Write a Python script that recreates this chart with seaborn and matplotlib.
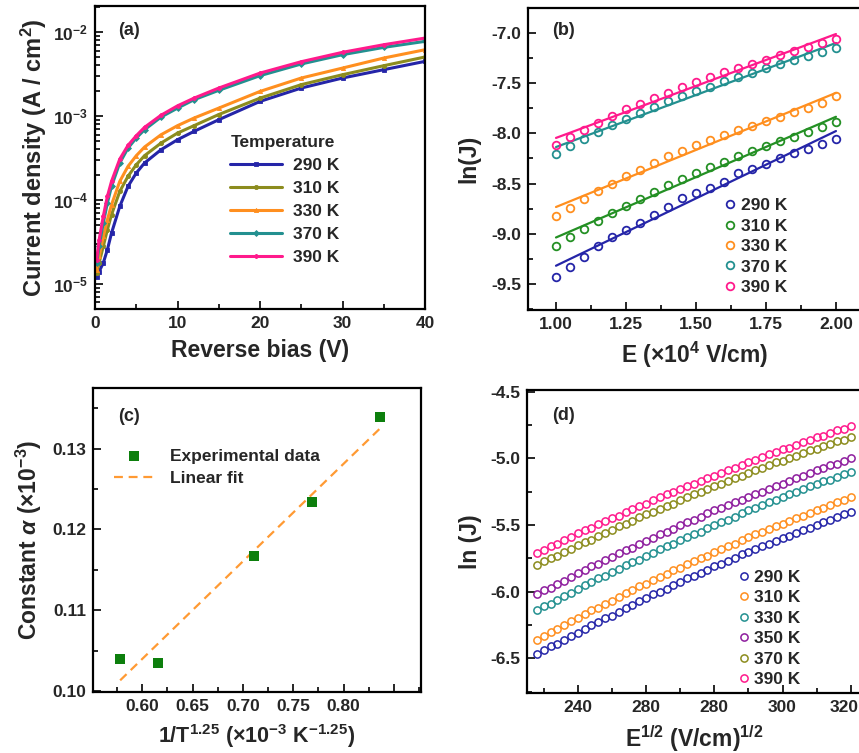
import numpy as np
import pandas as pd
import matplotlib
matplotlib.use("Agg")
import matplotlib.pyplot as plt
import matplotlib.transforms as mtrans
import seaborn as sns
from matplotlib.ticker import MultipleLocator, FormatStrFormatter, LogLocator, NullFormatter

# ---------------- data ----------------
# (a) J-V curves, current density in A/cm2
bias_v = [0.2, 0.5, 1, 1.5, 2, 3, 4, 5, 6, 8, 10, 12, 15, 20, 25, 30, 35, 40]
j_290 = [1.22e-5, 1.40e-5, 1.77e-5, 2.55e-5, 4.02e-5, 8.36e-5, 1.45e-4, 2.09e-4, 2.75e-4, 3.96e-4,
         5.21e-4, 6.55e-4, 9.02e-4, 1.49e-3, 2.15e-3, 2.83e-3, 3.56e-3, 4.47e-3]
j_310 = [1.34e-5, 1.77e-5, 2.79e-5, 4.41e-5, 6.65e-5, 1.26e-4, 1.91e-4, 2.62e-4, 3.36e-4, 4.75e-4,
         6.25e-4, 7.66e-4, 1.04e-3, 1.63e-3, 2.36e-3, 3.10e-3, 3.97e-3, 5.04e-3]
j_330 = [1.47e-5, 2.12e-5, 3.67e-5, 5.79e-5, 8.75e-5, 1.66e-4, 2.51e-4, 3.36e-4, 4.26e-4, 5.97e-4,
         7.66e-4, 9.44e-4, 1.24e-3, 1.96e-3, 2.83e-3, 3.72e-3, 4.90e-3, 6.15e-3]
j_370 = [1.77e-5, 2.79e-5, 5.28e-5, 9.16e-5, 1.45e-4, 2.75e-4, 4.14e-4, 5.46e-4, 6.85e-4, 9.70e-4,
         1.24e-3, 1.56e-3, 2.02e-3, 3.02e-3, 4.16e-3, 5.37e-3, 6.56e-3, 7.74e-3]
j_390 = [1.93e-5, 3.35e-5, 6.35e-5, 1.10e-4, 1.66e-4, 3.06e-4, 4.46e-4, 5.81e-4, 7.31e-4, 1.02e-3,
         1.32e-3, 1.63e-3, 2.15e-3, 3.24e-3, 4.43e-3, 5.73e-3, 7.06e-3, 8.47e-3]
temps_a = ["290 K", "310 K", "330 K", "370 K", "390 K"]

# (b) ln(J) vs E
field_b = [1.00, 1.05, 1.10, 1.15, 1.20, 1.25, 1.30, 1.35, 1.40, 1.45, 1.50,
           1.55, 1.60, 1.65, 1.70, 1.75, 1.80, 1.85, 1.90, 1.95, 2.00]
b_290 = [-9.43, -9.33, -9.23, -9.12, -9.03, -8.96, -8.89, -8.81, -8.73, -8.64, -8.59,
         -8.54, -8.48, -8.39, -8.35, -8.30, -8.25, -8.20, -8.16, -8.11, -8.06]
b_310 = [-9.12, -9.03, -8.95, -8.87, -8.79, -8.72, -8.65, -8.58, -8.51, -8.45, -8.39,
         -8.33, -8.28, -8.23, -8.18, -8.13, -8.08, -8.04, -7.99, -7.94, -7.89]
b_330 = [-8.82, -8.74, -8.65, -8.57, -8.50, -8.42, -8.36, -8.29, -8.23, -8.18, -8.12,
         -8.07, -8.02, -7.97, -7.93, -7.88, -7.84, -7.79, -7.75, -7.70, -7.63]
b_370 = [-8.21, -8.13, -8.06, -7.99, -7.92, -7.86, -7.80, -7.74, -7.68, -7.63, -7.58,
         -7.54, -7.48, -7.44, -7.40, -7.35, -7.31, -7.27, -7.23, -7.19, -7.15]
b_390 = [-8.12, -8.04, -7.97, -7.90, -7.83, -7.76, -7.71, -7.65, -7.60, -7.54, -7.49,
         -7.44, -7.39, -7.35, -7.31, -7.27, -7.22, -7.18, -7.14, -7.10, -7.06]
temps_b = ["290 K", "310 K", "330 K", "370 K", "390 K"]

# (c) constant alpha vs 1/T^1.25
inv_t = [0.578, 0.616, 0.711, 0.769, 0.836]
alpha = [0.1040, 0.1035, 0.1167, 0.1234, 0.1339]
c_xticks = [0.60, 0.65, 0.70, 0.75, 0.80, 0.85]
c_xticklabels = ["0.60", "0.65", "0.70", "0.75", "0.80", ""]

# (d) ln(J) vs E^1/2
sqrt_e = [228, 230, 232, 234, 236, 238, 240, 242, 244, 246, 248, 250, 252, 254, 256, 258,
          260, 262, 264, 266, 268, 270, 272, 274, 276, 278, 280, 282, 284, 286, 288, 290,
          292, 294, 296, 298, 300, 302, 304, 306, 308, 310, 312, 314, 316, 318, 320]
d_290 = [-6.47, -6.44, -6.41, -6.39, -6.36, -6.33, -6.31, -6.28, -6.25, -6.23, -6.20, -6.18,
         -6.15, -6.12, -6.10, -6.07, -6.05, -6.02, -6.00, -5.98, -5.95, -5.93, -5.90, -5.88,
         -5.86, -5.84, -5.81, -5.79, -5.77, -5.75, -5.72, -5.70, -5.68, -5.66, -5.64, -5.62,
         -5.60, -5.58, -5.56, -5.54, -5.52, -5.50, -5.48, -5.46, -5.44, -5.42, -5.40]
d_310 = [-6.36, -6.33, -6.30, -6.28, -6.25, -6.22, -6.20, -6.17, -6.14, -6.12, -6.09, -6.07,
         -6.04, -6.01, -5.99, -5.96, -5.94, -5.91, -5.89, -5.87, -5.84, -5.82, -5.79, -5.77,
         -5.75, -5.73, -5.70, -5.68, -5.66, -5.64, -5.61, -5.59, -5.57, -5.55, -5.53, -5.51,
         -5.49, -5.47, -5.45, -5.43, -5.41, -5.39, -5.37, -5.35, -5.33, -5.31, -5.29]
d_330 = [-6.14, -6.11, -6.09, -6.06, -6.03, -6.01, -5.98, -5.95, -5.93, -5.90, -5.88, -5.85,
         -5.83, -5.80, -5.78, -5.76, -5.73, -5.71, -5.68, -5.66, -5.64, -5.61, -5.59, -5.57,
         -5.55, -5.52, -5.50, -5.48, -5.46, -5.44, -5.41, -5.39, -5.37, -5.35, -5.33, -5.31,
         -5.29, -5.27, -5.25, -5.23, -5.21, -5.19, -5.17, -5.16, -5.14, -5.12, -5.10]
d_350 = [-6.02, -5.99, -5.97, -5.94, -5.92, -5.89, -5.86, -5.84, -5.81, -5.79, -5.76, -5.74,
         -5.71, -5.69, -5.67, -5.64, -5.62, -5.60, -5.57, -5.55, -5.53, -5.50, -5.48, -5.46,
         -5.44, -5.41, -5.39, -5.37, -5.35, -5.33, -5.31, -5.29, -5.27, -5.25, -5.23, -5.21,
         -5.19, -5.17, -5.15, -5.13, -5.11, -5.09, -5.07, -5.05, -5.04, -5.02, -5.00]
d_370 = [-5.80, -5.77, -5.75, -5.73, -5.70, -5.68, -5.65, -5.63, -5.61, -5.58, -5.56, -5.54,
         -5.51, -5.49, -5.47, -5.44, -5.42, -5.40, -5.38, -5.36, -5.34, -5.31, -5.29, -5.27,
         -5.25, -5.23, -5.21, -5.19, -5.17, -5.15, -5.13, -5.11, -5.09, -5.07, -5.05, -5.03,
         -5.02, -5.00, -4.98, -4.96, -4.94, -4.93, -4.91, -4.89, -4.87, -4.86, -4.84]
d_390 = [-5.71, -5.69, -5.66, -5.64, -5.61, -5.59, -5.56, -5.54, -5.52, -5.49, -5.47, -5.45,
         -5.43, -5.40, -5.38, -5.36, -5.34, -5.31, -5.29, -5.27, -5.25, -5.23, -5.21, -5.19,
         -5.17, -5.15, -5.13, -5.11, -5.09, -5.07, -5.05, -5.03, -5.01, -4.99, -4.97, -4.95,
         -4.93, -4.92, -4.90, -4.88, -4.86, -4.84, -4.83, -4.81, -4.79, -4.78, -4.76]
temps_d = ["290 K", "310 K", "330 K", "350 K", "370 K", "390 K"]
d_xticks = [240, 260, 280, 300, 320]
d_xticklabels = ["240", "280", "280", "300", "320"]

# ---------------- style ----------------
sns.set_style("ticks")
plt.rcParams['font.family'] = ['Liberation Sans', 'DejaVu Sans']
plt.rcParams['font.weight'] = 'bold'
plt.rcParams['axes.labelweight'] = 'bold'
plt.rcParams['axes.unicode_minus'] = False
plt.rcParams['mathtext.fontset'] = 'custom'
plt.rcParams['mathtext.rm'] = 'Liberation Sans:bold'
plt.rcParams['mathtext.bf'] = 'Liberation Sans:bold'
plt.rcParams['mathtext.it'] = 'Liberation Sans:italic:bold'

BLUE = '#2525a8'
OLIVE = '#8c8c1e'
ORANGE = '#ff8f1f'
TEAL = '#239090'
PINK = '#ff1a8c'
GREEN = '#249024'
PURPLE = '#8e1e9e'

LABEL_FS = 16.5
TICK_FS = 12.5
LEG_FS = 12.5


def style_axes(ax):
    for sp in ax.spines.values():
        sp.set_linewidth(1.6)
        sp.set_color('black')
    ax.tick_params(which='both', direction='in', top=False, right=False,
                   width=1.4, labelsize=TICK_FS, pad=5)
    ax.tick_params(which='major', length=6)
    ax.tick_params(which='minor', length=3.5)
    for t in ax.get_xticklabels() + ax.get_yticklabels():
        t.set_fontweight('bold')


fig = plt.figure(figsize=(8.59, 7.53), dpi=100)

# ---------------- (a) ----------------
ax = fig.add_axes([95 / 859, 1 - 309 / 753, 330 / 859, 303 / 753])
markers_a = ['s', 'o', '^', 'D', 'P']
for lab, jv, col, mk in zip(temps_a, [j_290, j_310, j_330, j_370, j_390],
                            [BLUE, OLIVE, ORANGE, TEAL, PINK], markers_a):
    sns.lineplot(x=bias_v, y=jv, ax=ax, color=col, marker=mk, markersize=3,
                 markeredgecolor=col, markeredgewidth=0.6, linewidth=2.2,
                 label=lab, errorbar=None)
ax.set_yscale('log')
ax.set_xlim(0, 40)
ax.set_ylim(10 ** -5.30, 10 ** -1.69)
ax.xaxis.set_major_locator(MultipleLocator(10))
ax.xaxis.set_minor_locator(MultipleLocator(5))
ax.yaxis.set_major_locator(LogLocator(base=10, numticks=10))
ax.yaxis.set_minor_locator(LogLocator(base=10, subs=np.arange(2, 10), numticks=10))
ax.yaxis.set_minor_formatter(NullFormatter())
ax.set_xlabel("Reverse bias (V)", fontsize=LABEL_FS, labelpad=6)
ax.set_ylabel("Current density (A / cm$^2$)", fontsize=LABEL_FS + 0.5, labelpad=3)
style_axes(ax)
leg = ax.legend(title="Temperature", loc='upper left', bbox_to_anchor=(0.41, 0.575),
                frameon=False, fontsize=LEG_FS, title_fontsize=LEG_FS,
                handlelength=3.0, handletextpad=0.6, labelspacing=0.45,
                borderaxespad=0, borderpad=0, numpoints=1)
leg._legend_box.align = "left"
leg.get_title().set_fontweight('bold')
ax.text(0.07, 0.92, "(a)", transform=ax.transAxes, fontsize=13, fontweight='bold', va='center')

# ---------------- (b) ----------------
ax = fig.add_axes([528 / 859, 1 - 310 / 753, 334 / 859, 302 / 753])
for lab, vals, col in zip(temps_b, [b_290, b_310, b_330, b_370, b_390],
                          [BLUE, GREEN, ORANGE, TEAL, PINK]):
    sns.lineplot(x=field_b, y=vals, ax=ax, color=col, marker='o', linestyle='none',
                 markersize=5.5, markerfacecolor='none', markeredgecolor=col,
                 markeredgewidth=1.3, label=lab, errorbar=None)
    sns.regplot(x=field_b, y=vals, ax=ax, scatter=False, ci=None, truncate=True,
                color=col, line_kws=dict(lw=1.6))
ax.set_xlim(0.9, 2.093)
ax.set_ylim(-9.76, -6.75)
ax.xaxis.set_major_locator(MultipleLocator(0.25))
ax.xaxis.set_minor_locator(MultipleLocator(0.125))
ax.yaxis.set_major_locator(MultipleLocator(0.5))
ax.yaxis.set_minor_locator(MultipleLocator(0.25))
ax.xaxis.set_major_formatter(FormatStrFormatter('%.2f'))
ax.yaxis.set_major_formatter(FormatStrFormatter('%.1f'))
ax.set_xlabel("E (\u00d710$^4$ V/cm)", fontsize=LABEL_FS, labelpad=6)
ax.set_ylabel("ln(J)", fontsize=LABEL_FS, labelpad=8)
style_axes(ax)
ax.legend(loc='lower left', bbox_to_anchor=(0.59, 0.05), frameon=False,
          fontsize=LEG_FS, handlelength=0.6, handletextpad=0.3, labelspacing=0.3,
          borderaxespad=0, borderpad=0, numpoints=1)
ax.text(0.072, 0.927, "(b)", transform=ax.transAxes, fontsize=13, fontweight='bold', va='center')

# ---------------- (c) ----------------
ax = fig.add_axes([93 / 859, 1 - 692 / 753, 328 / 859, 304 / 753])
sns.scatterplot(x=inv_t, y=alpha, ax=ax, marker='s', s=58, color='#0d7f0d',
                edgecolor='#0d7f0d', linewidth=0, label="Experimental data", zorder=3)
sns.regplot(x=inv_t, y=alpha, ax=ax, scatter=False, ci=None, truncate=True,
            color='#ff9a33', line_kws=dict(lw=1.6, ls=(0, (4, 2.6))))
fit_line = ax.lines[-1]
fit_line.set_label("Linear fit")
ax.set_xlim(0.551, 0.877)
ax.set_ylim(0.0999, 0.1375)
ax.set_xticks(c_xticks)
ax.set_xticklabels(c_xticklabels)
ax.xaxis.set_minor_locator(MultipleLocator(0.025))
ax.yaxis.set_major_locator(MultipleLocator(0.01))
ax.yaxis.set_minor_locator(MultipleLocator(0.005))
ax.yaxis.set_major_formatter(FormatStrFormatter('%.2f'))
ax.set_xlabel("1/T$^{1.25}$ (\u00d710$^{-3}$ K$^{-1.25}$)", fontsize=15.5, labelpad=6)
ax.set_ylabel("Constant $\\alpha$ ($\\times$10$^{-3}$)", fontsize=LABEL_FS, labelpad=6)
style_axes(ax)
sq_handle = ax.collections[0]
ax.legend(handles=[sq_handle, fit_line], labels=["Experimental data", "Linear fit"],
          loc='upper left', bbox_to_anchor=(0.065, 0.80), frameon=False,
          fontsize=LEG_FS, handlelength=2.3, handletextpad=0.9, labelspacing=0.4,
          borderaxespad=0, borderpad=0)
ax.text(0.076, 0.906, "(c)", transform=ax.transAxes, fontsize=13, fontweight='bold', va='center')

# ---------------- (d) ----------------
ax = fig.add_axes([527 / 859, 1 - 693 / 753, 335 / 859, 303 / 753])
for lab, vals, col in zip(temps_d, [d_290, d_310, d_330, d_350, d_370, d_390],
                          [BLUE, ORANGE, TEAL, PURPLE, OLIVE, PINK]):
    sns.lineplot(x=sqrt_e, y=vals, ax=ax, color=col, marker='o', linestyle='none',
                 markersize=5.2, markerfacecolor='none', markeredgecolor=col,
                 markeredgewidth=1.1, label=lab, errorbar=None)
ax.set_xlim(225.1, 323.3)
ax.set_ylim(-6.76, -4.487)
ax.set_xticks(d_xticks)
ax.set_xticklabels(d_xticklabels)
ax.xaxis.set_minor_locator(MultipleLocator(10))
ax.yaxis.set_major_locator(MultipleLocator(0.5))
ax.yaxis.set_minor_locator(MultipleLocator(0.25))
ax.yaxis.set_major_formatter(FormatStrFormatter('%.1f'))
ax.set_xlabel("E$^{1/2}$ (V/cm)$^{1/2}$", fontsize=LABEL_FS, labelpad=6)
ax.set_ylabel("ln (J)", fontsize=LABEL_FS, labelpad=6)
style_axes(ax)
ax.legend(loc='lower left', bbox_to_anchor=(0.635, 0.02), frameon=False,
          fontsize=LEG_FS, handlelength=0.5, handletextpad=0.3, labelspacing=0.3,
          borderaxespad=0, borderpad=0, numpoints=1)
ax.text(0.075, 0.917, "(d)", transform=ax.transAxes, fontsize=13, fontweight='bold', va='center')
# keep the last tick label inside the canvas, as in the reference
last_lbl = ax.get_xticklabels()[-1]
last_lbl.set_transform(last_lbl.get_transform()
                       + mtrans.ScaledTranslation(-7 / 100, 0, fig.dpi_scale_trans))

fig.savefig("out.png", dpi=100)
